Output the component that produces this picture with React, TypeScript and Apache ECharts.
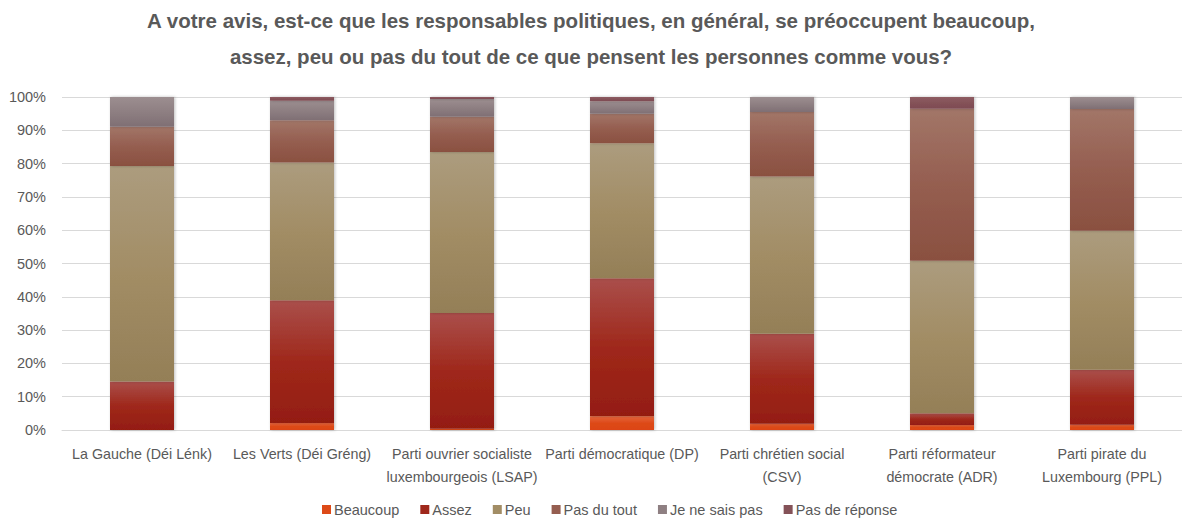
import React, { useEffect, useRef } from "react";
import * as echarts from "echarts";

const categories = [
  "La Gauche (Déi Lénk)",
  "Les Verts (Déi Gréng)",
  "Parti ouvrier socialiste\nluxembourgeois (LSAP)",
  "Parti démocratique (DP)",
  "Parti chrétien social\n(CSV)",
  "Parti réformateur\ndémocrate (ADR)",
  "Parti pirate du\nLuxembourg (PPL)",
];

const beaucoup = [0, 2.1, 0.4, 4.1, 1.9, 1.5, 1.6];
const assez = [14.6, 36.9, 34.7, 41.5, 27.0, 3.5, 16.5];
const peu = [64.7, 41.3, 48.4, 40.5, 47.2, 45.8, 41.7];
const pasDuTout = [11.8, 12.7, 10.6, 8.9, 19.4, 45.7, 36.6];
const jeNeSaisPas = [8.9, 5.9, 5.3, 3.7, 4.5, 0, 3.6];
const pasDeReponse = [0, 1.1, 0.6, 1.3, 0, 3.5, 0];

const seriesNames = ["Beaucoup", "Assez", "Peu", "Pas du tout", "Je ne sais pas", "Pas de réponse"];
const seriesData = [beaucoup, assez, peu, pasDuTout, jeNeSaisPas, pasDeReponse];
const seriesColors: [string, string, string][] = [
  ["#E6643C", "#DD4A18", "#DC4416"],
  ["#AA4F4B", "#9F281B", "#941D11"],
  ["#AC9C7E", "#A28D65", "#947F57"],
  ["#A27668", "#955E50", "#8A5040"],
  ["#9C8E90", "#8E7F82", "#7F6F74"],
  ["#8E5C62", "#845258", "#7E4B52"],
];
const legendColors = ["#DD4A18", "#9F281B", "#A28D65", "#955E50", "#8E7F82", "#845258"];

const FONT = "'Liberation Sans', Arial, sans-serif";
const TEXT = "#595959";

export default function App() {
  const ref = useRef<HTMLDivElement>(null);
  useEffect(() => {
    if (!ref.current) return;
    const chart = echarts.init(ref.current, null, { renderer: "svg" });
    chart.setOption({
      animation: false,
      backgroundColor: "#ffffff",
      title: {
        text:
          "A votre avis, est-ce que les responsables politiques, en général, se préoccupent beaucoup,\nassez, peu ou pas du tout de ce que pensent les personnes comme vous?",
        left: "center",
        top: 2,
        padding: 0,
        textStyle: {
          fontFamily: FONT,
          fontSize: 20.5,
          fontWeight: "bold",
          color: TEXT,
          lineHeight: 36,
        },
      },
      legend: {
        data: seriesNames.map((n, i) => ({ name: n, itemStyle: { color: legendColors[i] } })),
        left: 322,
        top: 502,
        padding: 0,
        itemWidth: 9,
        itemHeight: 9,
        itemGap: 21,
        icon: "rect",
        textStyle: { fontFamily: FONT, fontSize: 14.5, color: TEXT, padding: [0, 0, 0, -2] },
      },
      grid: { left: 62, top: 97, width: 1132, height: 333, containLabel: false },
      xAxis: {
        type: "category",
        data: categories,
        axisLine: { show: true, lineStyle: { color: "#D9D9D9", width: 1 } },
        axisTick: { show: false },
        axisLabel: {
          interval: 0,
          fontFamily: FONT,
          fontSize: 14.3,
          color: TEXT,
          lineHeight: 23,
          margin: 12,
        },
      },
      yAxis: {
        type: "value",
        min: 0,
        max: 100,
        interval: 10,
        axisLine: { show: false },
        axisTick: { show: false },
        splitLine: { lineStyle: { color: "#D9D9D9", width: 1 } },
        axisLabel: {
          formatter: "{value}%",
          fontFamily: FONT,
          fontSize: 14.5,
          color: TEXT,
          margin: 16,
        },
      },
      series: seriesNames.map((name, i) => ({
        name,
        type: "bar",
        stack: "total",
        barWidth: "40%",
        data: seriesData[i],
        itemStyle: {
          color: new echarts.graphic.LinearGradient(0, 0, 0, 1, [
            { offset: 0, color: seriesColors[i][0] },
            { offset: 0.5, color: seriesColors[i][1] },
            { offset: 1, color: seriesColors[i][2] },
          ]),
          shadowBlur: 3,
          shadowColor: "rgba(0,0,0,0.25)",
          shadowOffsetX: 1,
          shadowOffsetY: 0,
        },
        emphasis: { disabled: true },
      })),
    });
    return () => chart.dispose();
  }, []);
  return (
    <div
      ref={ref}
      style={{ position: "fixed", left: 0, top: 0, width: 1182, height: 520 }}
    />
  );
}
